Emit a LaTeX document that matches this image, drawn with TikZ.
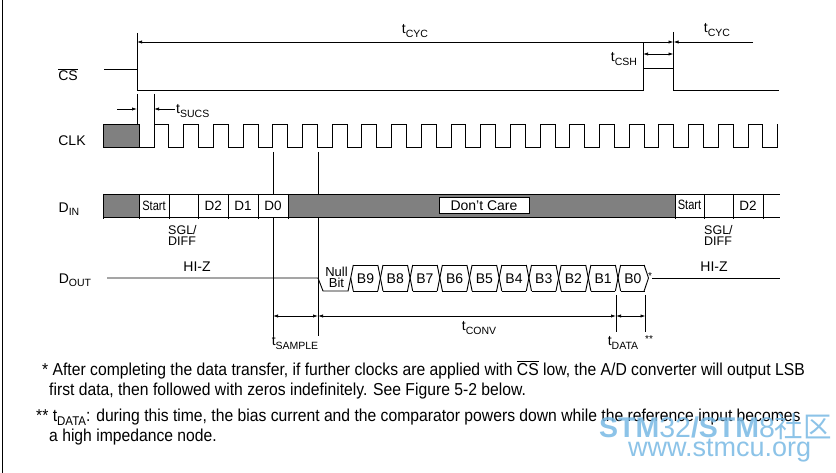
\documentclass[tikz,border=0pt]{standalone}
\usepackage{fontspec}
\setmainfont{Liberation Sans}
\newfontfamily\cjkfont{Noto Sans CJK SC}
\usetikzlibrary{arrows.meta}

\definecolor{busgray}{RGB}{128,128,128}
\definecolor{wmblue}{RGB}{120,185,228}

\newcommand{\tsub}[1]{\raisebox{-0.45ex}{\fontsize{10.5}{10.5}\selectfont #1}}
\newcommand{\tsubn}[1]{\raisebox{-0.45ex}{\fontsize{11.5}{11.5}\selectfont #1}}
\newcommand{\csbar}{$\overline{\mbox{CS}}$}
\newcommand{\tall}[1]{\scalebox{1}[1.1]{#1}}

\begin{document}
\begin{tikzpicture}[x=1pt,y=-1pt,
  sig/.style={line width=0.9pt},
  thinl/.style={line width=0.7pt},
  tip/.style={-{Latex[length=5pt,width=3.2pt]}},
  dtip/.style={{Latex[length=5pt,width=3.2pt]}-{Latex[length=5pt,width=3.2pt]}},
  lbl/.style={inner sep=0pt,font=\fontsize{14}{16}\selectfont},
  cell/.style={inner sep=0pt,font=\fontsize{13.5}{15}\selectfont},
  note/.style={inner sep=0pt,anchor=base west,font=\fontsize{15.7}{17}\selectfont},
]
\useasboundingbox (0,0) rectangle (836,473);
\fill[white] (0,0) rectangle (836,473);
\draw[line width=1pt] (2.5,0) -- (2.5,473);

% ---------- named reference points ----------
\coordinate (cyL) at (137,42);
\coordinate (cyR) at (673.5,42);
\coordinate (cy2) at (753,42);
\coordinate (cshL) at (643,54);
\coordinate (cshR) at (673.5,54);
\coordinate (suA) at (117,109);
\coordinate (suB) at (137,109);
\coordinate (suC) at (175,109);
\coordinate (suD) at (154,109);
\coordinate (smL) at (273,316);
\coordinate (smR) at (318,316);
\coordinate (cvR) at (616,316);
\coordinate (dtR) at (645.5,316);

% ---------- CS ----------
\draw[sig] (104,69) -- (137,69) -- (137,90) -- (643,90) -- (643,68.5) -- (673.5,68.5) -- (673.5,90) -- (779,90);
\draw[thinl] (137,33) -- (137,69);
\draw[thinl] (673.5,32) -- (673.5,68.5);
\draw[thinl] (643,43) -- (643,68.5);
\draw[thinl,dtip] (cyL) -- (cyR);
\draw[thinl,tip] (cy2) -- (cyR);
\draw[thinl,dtip] (cshL) -- (cshR);

% ---------- tSUCS ----------
\draw[thinl] (137,94) -- (137,124);
\draw[thinl] (154,94) -- (154,124);
\draw[thinl,tip] (suA) -- (suB);
\draw[thinl,tip] (suC) -- (suD);

% ---------- CLK ----------
\fill[busgray] (103,124) rectangle (139,147);
\draw[sig] (103,124) rectangle (139,147);
\draw[sig] (139,147)
  \foreach \n in {0,...,20} { -- ({154+29.7*\n},147) -- ({154+29.7*\n},124) -- ({168.85+29.7*\n},124) -- ({168.85+29.7*\n},147) }
  -- (777.7,147) -- (777.7,124);

% ---------- timing verticals ----------
\draw[thinl] (273,152) -- (273,336);
\draw[thinl] (318,152) -- (318,336);
\draw[thinl] (616,295) -- (616,332);
\draw[thinl] (645.5,295) -- (645.5,332);

% ---------- DIN ----------
\fill[busgray] (103,194) rectangle (139,217);
\fill[busgray] (288,194) rectangle (675,217);
\fill[white] (139,194) rectangle (288,217);
\fill[white] (675,194) rectangle (780,217);
\draw[sig] (103,194) -- (780,194);
\draw[sig] (103,217) -- (780,217);
\foreach \x in {103,139,169,198.5,228,258,288,675,704,733,763}
  \draw[sig] (\x,194) -- (\x,219);
\node[draw,sig,fill=white,minimum width=90pt,minimum height=15.6pt,inner sep=0pt,font=\fontsize{14}{16}\selectfont] (dc) at (484,205.5) {Don't Care};

\node[cell] (st1) at (154,206) {\scalebox{0.82}[1]{Start}};
\node[cell] (d2a) at (213.3,205.5) {D2};
\node[cell] (d1a) at (243,205.5) {D1};
\node[cell] (d0a) at (273,206) {D0};
\node[cell] (st2) at (689.5,205) {\scalebox{0.82}[1]{Start}};
\node[cell] (d2b) at (748,206) {D2};
\node[anchor=north west,align=left,inner sep=0pt,font=\fontsize{12.5}{11}\selectfont] (sgl1) at (168,225) {SGL/\\DIFF};
\node[anchor=north west,align=left,inner sep=0pt,font=\fontsize{12.5}{11}\selectfont] (sgl2) at (704,225) {SGL/\\DIFF};

% ---------- DOUT ----------
\def\w{2.6}
\draw[sig] (107,278) -- (318,278) -- (323,291) -- ({350.7-\w},291) -- ({350.7+\w},265);
\draw[sig] (350.7,278) -- ({350.7+\w},291);
\foreach \k in {0,...,9} {
  \draw[sig] ({350.7+29.7*\k+\w},265) -- ({350.7+29.7*(\k+1)-\w},265);
  \draw[sig] ({350.7+29.7*\k+\w},291) -- ({350.7+29.7*(\k+1)-\w},291);
}
\foreach \k in {1,...,9} {
  \draw[sig] ({350.7+29.7*\k-\w},265) -- ({350.7+29.7*\k+\w},291);
  \draw[sig] ({350.7+29.7*\k-\w},291) -- ({350.7+29.7*\k+\w},265);
}
\draw[sig] ({647.7-\w-1},265) -- (648.5,278) -- ({647.7-\w-1},291);
\draw[sig] (652,278) -- (780,278);
\node[inner sep=0pt,font=\fontsize{10}{10}\selectfont] (ast) at (650,276) {*};

\node[align=center,inner sep=0pt,font=\fontsize{13}{11.3}\selectfont] (nb) at (336.5,277.5) {Null\\Bit};
\foreach \lab [count=\i from 0] in {B9,B8,B7,B6,B5,B4,B3,B2,B1,B0}
  \node[lbl] (b\i) at ({350.7+29.7*\i+14.85},278.5) {\lab};

\node[lbl] (hz1) at (197,267) {HI-Z};
\node[lbl] (hz2) at (714,267) {HI-Z};

% ---------- bottom timing arrows ----------
\draw[thinl,dtip] (smL) -- (smR);
\draw[thinl,dtip] (smR) -- (cvR);
\draw[thinl,dtip] (cvR) -- (dtR);

% ---------- labels ----------
\node[lbl] (lcs) at (68,75) {\csbar};
\node[lbl] (lclk) at (72,141) {CLK};
\node[lbl] (ldin) at (69,209) {D\tsub{IN}};
\node[lbl] (ldout) at (75,280) {D\tsub{OUT}};

\node[lbl] (tcyc1) at (415,31) {t\tsub{CYC}};
\node[lbl] (tcyc2) at (717,30) {t\tsub{CYC}};
\node[lbl] (tcsh) at (624,59) {t\tsub{CSH}};
\node[lbl,anchor=west] (tsucs) at (176,111) {t\tsub{SUCS}};
\node[lbl] (tsamp) at (295,343) {t\tsub{SAMPLE}};
\node[lbl] (tconv) at (479,328) {t\tsub{CONV}};
\node[lbl] (tdata) at (623,343) {t\tsub{DATA}};
\node[inner sep=0pt,font=\fontsize{10}{10}\selectfont] (dast) at (649,339) {**};

% ---------- footnotes ----------
\node[note] (n1) at (42,375) {\tall{* After completing the data transfer, if further clocks are applied with \csbar{} low, the A/D converter will output LSB}};
\node[note] (n2) at (49,395) {\tall{first data, then followed with zeros indefinitely. See Figure 5-2 below.}};
\node[note] (n3) at (36,421) {\tall{** t\tsubn{DATA}: during this time, the bias current and the comparator powers down while the reference input becomes}};
\node[note] (n4) at (49,441) {\tall{a high impedance node.}};

% ---------- watermark ----------
\node[anchor=base west,inner sep=0pt,text=wmblue,text opacity=0.85,font=\fontsize{28.5}{28.5}\selectfont] (wm1) at (599,437) {\textbf{STM}32\textbf{/STM}8{\cjkfont 社区}};
\node[anchor=base west,inner sep=0pt,text=wmblue,text opacity=0.85,font=\fontsize{27}{27}\selectfont] (wm2) at (628,456) {www.stmcu.org};
\end{tikzpicture}
\end{document}
